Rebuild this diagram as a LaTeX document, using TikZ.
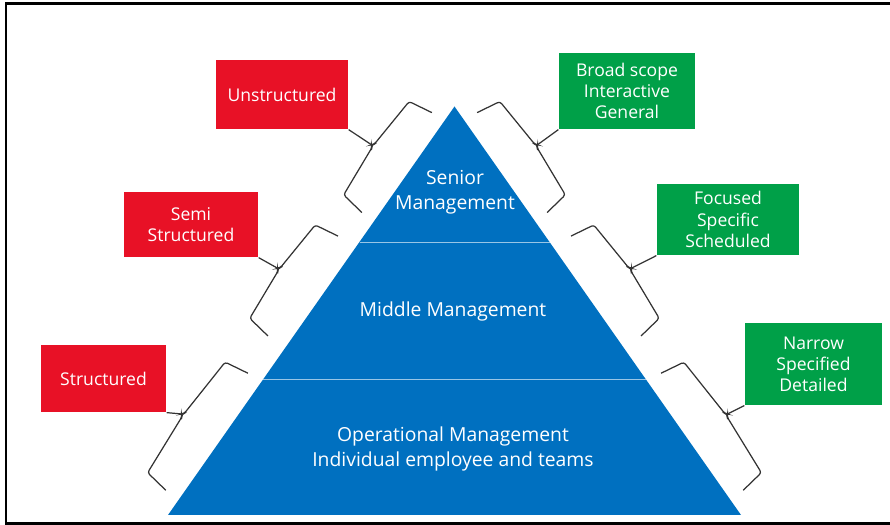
\documentclass[tikz,border=0pt]{standalone}
\usepackage{fontspec}
\setmainfont{Open Sans}
\usepackage{tikz}
\definecolor{pyrblue}{RGB}{0,112,192}
\definecolor{boxred}{RGB}{232,17,38}
\definecolor{boxgreen}{RGB}{0,160,72}
\begin{document}
\begin{tikzpicture}[x=0.2mm,y=0.2mm,line width=0.7pt,
redbox/.style={fill=boxred,text=white,align=center,inner sep=0pt,font=\fontsize{10}{12}\selectfont},
greenbox/.style={fill=boxgreen,text=white,align=center,inner sep=0pt,font=\fontsize{10}{12}\selectfont},
lvl/.style={text=white,align=center,font=\fontsize{11}{14}\selectfont},
brc/.style={black!80,rounded corners=1.5pt}]
\useasboundingbox (0,0) rectangle (890,525);
\draw[line width=1.4pt] (6,1.5) rectangle (895,521.5);
\fill[pyrblue] (454.5,418.5) coordinate (A) -- (168,10) coordinate (BL) -- (741,10) coordinate (BR) -- cycle;
\draw[pyrblue!40!white,line width=0.5pt] (359.5,283) -- (549.5,283);
\draw[pyrblue!40!white,line width=0.5pt] (263.4,146) -- (645.6,146);
\node[lvl] (sen) at (455,333) {Senior\\Management};
\node[lvl,anchor=base] (mid) at (453,208.3) {Middle Management};
\node[lvl] (ope) at (453,75.8) {Operational Management\\Individual employee and teams};
% braces along both sides
\foreach \s/\e/\d/\n in {18/140/15/1,173/295/21/2,337/480/16/3}{
\pgfmathsetmacro\m{(\s+\e)/2}
\begin{scope}[shift={(A)},rotate=234.96,yscale=-1]
\draw[brc] (\s,\d) -- (\s+4,\d+25) -- (\m-2,\d+29) -- (\m,\d+31) -- (\m+2,\d+29) -- (\e-4,\d+25) -- (\e,\d);
\coordinate (l\n) at (\m,\d+31);
\end{scope}
\begin{scope}[shift={(A)},rotate=-54.96]
\draw[brc] (\s,\d) -- (\s+4,\d+25) -- (\m-2,\d+29) -- (\m,\d+31) -- (\m+2,\d+29) -- (\e-4,\d+25) -- (\e,\d);
\coordinate (r\n) at (\m,\d+31);
\end{scope}
}
\node[redbox,minimum width=26.4mm,minimum height=13.8mm] (uns) at (282,430.5) {Unstructured};
\node[redbox,minimum width=26.8mm,minimum height=13mm] (semi) at (191,300.5) {Semi\\Structured};
\node[redbox,minimum width=25mm,minimum height=13.4mm] (str) at (103.5,146.5) {Structured};
\node[greenbox,minimum width=27.2mm,minimum height=15.2mm] (broad) at (627,434) {Broad scope\\Interactive\\General};
\node[greenbox,minimum width=28.4mm,minimum height=14.2mm] (foc) at (728,305.5) {Focused\\Specific\\Scheduled};
\node[greenbox,minimum width=27.4mm,minimum height=16.4mm] (nar) at (813.5,161) {Narrow\\Specified\\Detailed};
\draw[brc] (l1) -- (uns.south east);
\draw[brc] (l2) -- (semi.south east);
\draw[brc] (l3) -- (str.south east);
\draw[brc] (r1) -- (broad.south west);
\draw[brc] (r2) -- (foc.south west);
\draw[brc] (r3) -- (nar.south west);
\end{tikzpicture}
\end{document}
